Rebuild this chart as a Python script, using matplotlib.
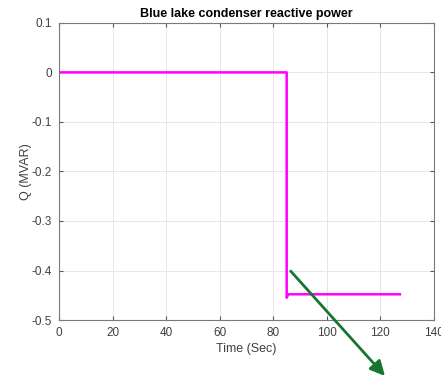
import numpy as np
import matplotlib
matplotlib.use("Agg")
import matplotlib.pyplot as plt

# reactive power trace
time_s = [0, 85.0, 85.0, 85.6, 127.3]
q_mvar = [0.0, 0.0, -0.455, -0.448, -0.448]

plt.rcParams['font.family'] = ['Liberation Sans', 'DejaVu Sans']

fig = plt.figure(figsize=(4.41, 3.81), dpi=100)
ax = fig.add_axes([0.134, 0.160, 0.850, 0.780])

ax.plot(time_s, q_mvar, color='#ff00ff', lw=1.8)

ax.set_xlim(0, 140)
ax.set_ylim(-0.5, 0.1)
ax.set_xticks(np.arange(0, 141, 20))
ax.set_yticks([-0.5, -0.4, -0.3, -0.2, -0.1, 0, 0.1])
ax.set_yticklabels(['-0.5', '-0.4', '-0.3', '-0.2', '-0.1', '0', '0.1'])
ax.grid(True, color='#e6e6e6', lw=0.7)
ax.tick_params(direction='in', top=True, right=True, length=3, pad=5,
               labelsize=8.5, colors='#555555', labelcolor='#404040')
for s in ax.spines.values():
    s.set_color('#7a7a7a')

ax.set_xlabel('Time (Sec)', fontsize=9, color='#404040', labelpad=3)
ax.set_ylabel('Q (MVAR)', fontsize=9, color='#404040', labelpad=0)
ax.set_title('Blue lake condenser reactive power', fontsize=9,
             fontweight='bold', pad=4)

# green arrow pointing out below the plot
ax.annotate('', xy=(122.4, -0.617), xytext=(85.8, -0.397),
            annotation_clip=False,
            arrowprops=dict(arrowstyle='-|>', color='#17752f', lw=2,
                            mutation_scale=22))

fig.savefig('out.png', dpi=100)
